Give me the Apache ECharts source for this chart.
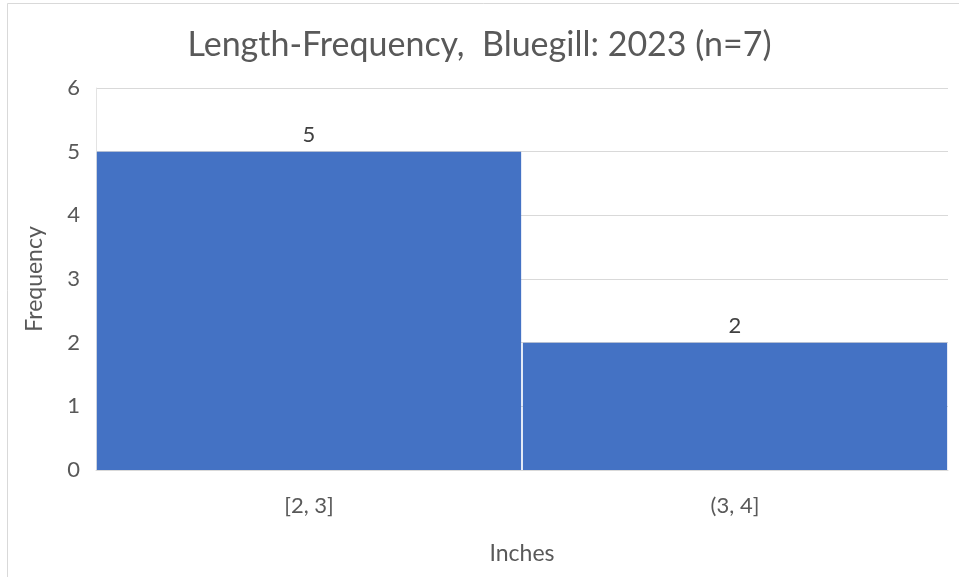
<!DOCTYPE html>
<html>
<head>
<meta charset="utf-8">
<script src="https://cdn.jsdelivr.net/npm/echarts@6/dist/echarts.min.js"></script>
<style>
  html, body { margin: 0; padding: 0; background: #fff; }
  #chart { width: 959px; height: 577px; }
</style>
</head>
<body>
<div id="chart"></div>
<script>
// Length bins (inches) and fish counts per bin
const bins = ['[2, 3]', '(3, 4]'];
const counts = [5, 2];
const yTicks = [0, 1, 2, 3, 4, 5, 6];

const FONT = 'Lato, "Open Sans", "Liberation Sans", sans-serif';
const TEXT = '#595959';

const chart = echarts.init(document.getElementById('chart'), null, { renderer: 'canvas' });
chart.setOption({
  animation: false,
  backgroundColor: '#fff',
  title: {
    text: 'Length-Frequency,  Bluegill: 2023 (n=7)',
    left: 'center',
    top: 23,
    textStyle: { fontFamily: FONT, fontSize: 34, fontWeight: 'normal', color: TEXT }
  },
  graphic: [{
    type: 'rect',
    shape: { x: 7.5, y: 3.5, width: 970, height: 590 },
    style: { fill: 'none', stroke: '#d9d9d9', lineWidth: 1 },
    silent: true
  }],
  grid: { left: 96, right: 11, top: 88, bottom: 107, containLabel: false },
  xAxis: {
    type: 'category',
    data: bins,
    name: 'Inches',
    nameLocation: 'middle',
    nameGap: 72,
    nameTextStyle: { fontFamily: FONT, fontSize: 23, color: TEXT },
    axisLine: { show: true, lineStyle: { color: '#d9d9d9', width: 1 } },
    axisTick: { show: false },
    axisLabel: { fontFamily: FONT, fontSize: 22, color: TEXT, margin: 25 }
  },
  yAxis: {
    type: 'value',
    min: yTicks[0],
    max: yTicks[yTicks.length - 1],
    interval: 1,
    name: 'Frequency',
    nameLocation: 'middle',
    nameGap: 50,
    nameRotate: 90,
    nameTextStyle: { fontFamily: FONT, fontSize: 23, color: TEXT },
    axisLine: { show: true, lineStyle: { color: '#e3e3e3', width: 1 } },
    axisTick: { show: false },
    axisLabel: { fontFamily: FONT, fontSize: 22, color: TEXT, margin: 16 },
    splitLine: { show: true, lineStyle: { color: '#d9d9d9', width: 1 } }
  },
  series: [{
    type: 'bar',
    data: counts,
    barCategoryGap: '0.4%',
    itemStyle: { color: '#4472C4' },
    label: {
      show: true,
      position: 'top',
      distance: 6,
      fontFamily: FONT,
      fontSize: 22,
      color: '#404040'
    }
  }]
});
</script>
</body>
</html>
